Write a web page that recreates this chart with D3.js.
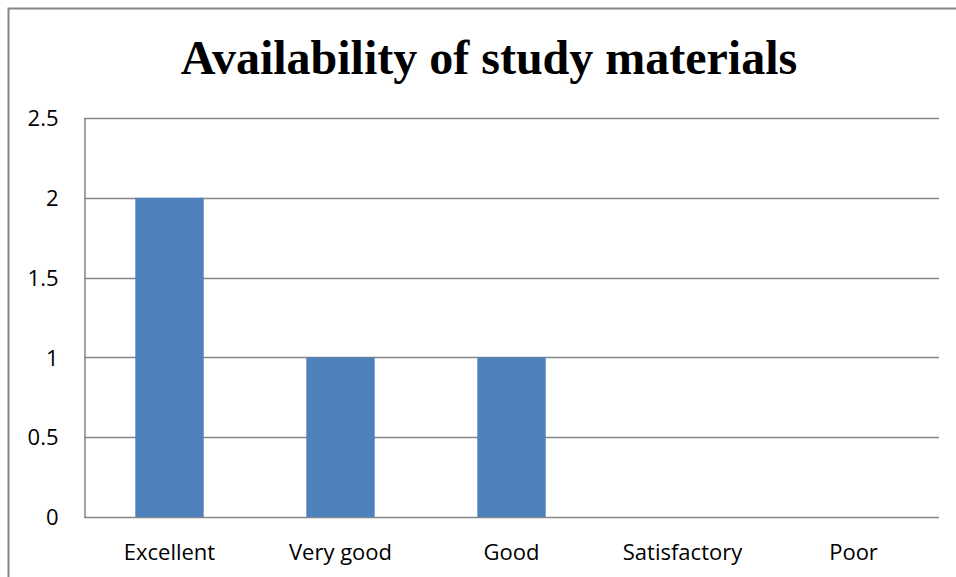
<!DOCTYPE html>
<html>
<head>
<meta charset="utf-8">
<script src="https://cdn.jsdelivr.net/npm/d3@7"></script>
<style>
  body { margin: 0; background: #fff; }
  svg { display: block; }
</style>
</head>
<body>
<svg id="chart" width="956" height="577"></svg>
<script>
const categories = ['Excellent', 'Very good', 'Good', 'Satisfactory', 'Poor'];
const values = [2, 1, 1, 0, 0];
const yTicks = [0, 0.5, 1, 1.5, 2, 2.5];

const svg = d3.select('#chart');
const plotLeft = 84, plotRight = 939, plotTop = 118, plotBottom = 517;

// outer frame (chart area border, runs off the page on right/bottom)
svg.append('rect')
  .attr('x', 8.5).attr('y', 8.5)
  .attr('width', 1000).attr('height', 1000)
  .attr('fill', 'none')
  .attr('stroke', '#878787')
  .attr('stroke-width', 2);

svg.append('text')
  .text('Availability of study materials')
  .attr('x', 489)
  .attr('y', 74)
  .attr('text-anchor', 'middle')
  .style('font-family', '"Liberation Serif", "Times New Roman", serif')
  .style('font-weight', 'bold')
  .style('font-size', '48px')
  .style('fill', '#000');

const x = d3.scaleBand()
  .domain(categories)
  .range([plotLeft, plotRight])
  .paddingInner(0.6)
  .paddingOuter(0.3);

const y = d3.scaleLinear()
  .domain([0, 2.5])
  .range([plotBottom, plotTop]);

// gridlines
svg.append('g')
  .selectAll('line')
  .data(yTicks)
  .join('line')
  .attr('x1', plotLeft).attr('x2', plotRight)
  .attr('y1', d => Math.round(y(d)) + 0.5)
  .attr('y2', d => Math.round(y(d)) + 0.5)
  .attr('stroke', '#868686')
  .attr('stroke-width', 1.5);

// bars
svg.append('g')
  .selectAll('rect')
  .data(values)
  .join('rect')
  .attr('x', (d, i) => x(categories[i]))
  .attr('y', d => y(d))
  .attr('width', x.bandwidth())
  .attr('height', d => y(0) - y(d))
  .attr('fill', '#4F81BD');

// y axis
const yAxis = d3.axisLeft(y)
  .tickValues(yTicks)
  .tickFormat(d3.format('~g'))
  .tickSize(0)
  .tickPadding(26);

const gy = svg.append('g')
  .attr('transform', `translate(${plotLeft + 0.5},0)`)
  .call(yAxis);
gy.select('.domain').attr('stroke', '#868686').attr('stroke-width', 1.5);
gy.selectAll('text')
  .style('font-family', '"Open Sans", "Noto Sans", sans-serif')
  .style('font-size', '22px')
  .attr('dy', '0.35em')
  .style('fill', '#000');

// x axis labels
const xAxis = d3.axisBottom(x).tickSize(0).tickPadding(27);
const gx = svg.append('g')
  .attr('transform', `translate(0,${plotBottom + 0.5})`)
  .call(xAxis);
gx.select('.domain').remove();
gx.selectAll('text')
  .style('font-family', '"Open Sans", "Noto Sans", sans-serif')
  .style('font-size', '22px')
  .style('fill', '#000');
</script>
</body>
</html>
